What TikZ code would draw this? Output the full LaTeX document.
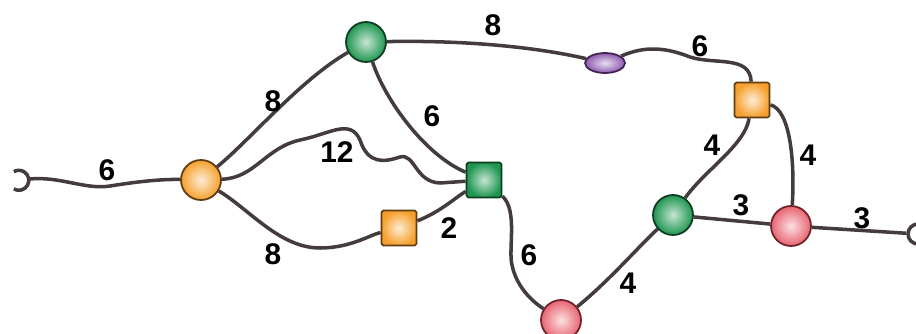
\documentclass[tikz,border=0pt]{standalone}
\usepackage{fontspec}
\setsansfont{Liberation Sans}
\usetikzlibrary{shapes.geometric}
\definecolor{edgegray}{RGB}{68,60,60}
\definecolor{orgfill}{RGB}{245,160,45}
\definecolor{orgline}{RGB}{95,60,20}
\definecolor{grnfill}{RGB}{30,150,80}
\definecolor{grnline}{RGB}{15,60,35}
\definecolor{redfill}{RGB}{232,100,112}
\definecolor{redline}{RGB}{110,35,42}
\definecolor{purfill}{RGB}{140,90,175}
\definecolor{purline}{RGB}{65,35,85}
\begin{document}
\begin{tikzpicture}[
  x=0.2mm, y=-0.2mm,
  ballnode/.style={circle, minimum size=8mm, inner sep=0pt, line width=1pt},
  boxnode/.style={rectangle, rounded corners=1pt, minimum size=7mm, inner sep=0pt, line width=1pt},
  orgcol/.style={draw=orgline, inner color=orgfill!20!white, outer color=orgfill},
  grncol/.style={draw=grnline, inner color=grnfill!25!white, outer color=grnfill},
  redcol/.style={draw=redline, inner color=redfill!20!white, outer color=redfill},
  purcol/.style={draw=purline, inner color=purfill!20!white, outer color=purfill},
  term/.style={circle, minimum size=4mm, inner sep=0pt},
  wlabel/.style={font=\sffamily\bfseries\fontsize{17}{17}\selectfont, inner sep=0pt},
  edge/.style={draw=edgegray, line width=2pt}
]
  \clip (0,0) rectangle (916,334);

  \node[term] (t1) at (19,180) {};
  \node[ballnode, orgcol] (a) at (201,180) {};
  \node[ballnode, grncol] (b) at (366,42) {};
  \node[boxnode, orgcol] (osq) at (399,228) {};
  \node[boxnode, grncol] (g) at (484,180) {};
  \node[ellipse, minimum width=8mm, minimum height=4mm, inner sep=0pt, line width=1pt, purcol] (pur) at (605,63) {};
  \node[boxnode, orgcol] (osqr) at (752,100) {};
  \node[ballnode, redcol] (rbot) at (561,320) {};
  \node[ballnode, grncol] (gr) at (673,215) {};
  \node[ballnode, redcol] (rr) at (791,226) {};
  \node[term, draw=edgegray, line width=2pt] (t2) at (918,234) {};

  \draw[edgegray, line width=2pt] (t1.-120) arc (-120:120:2mm);

  \draw[edge] (t1) .. controls (60,176) and (85,190) .. (110,186) .. controls (135,182) and (160,179) .. (a);
  \draw[edge] (a) .. controls (250,140) and (300,80) .. (b);
  \draw[edge] (a) .. controls (255,178) and (265,148) .. (300,140) .. controls (330,134) and (350,118) .. (360,140) .. controls (368,165) and (385,162) .. (400,157) .. controls (415,153) and (415,182) .. (440,183) -- (g);
  \draw[edge] (a) .. controls (250,210) and (280,248) .. (320,248) .. controls (350,248) and (370,235) .. (osq);
  \draw[edge] (osq) .. controls (440,212) and (455,198) .. (g);
  \draw[edge] (b) .. controls (385,100) and (425,155) .. (g);
  \draw[edge] (b) .. controls (470,40) and (540,48) .. (pur);
  \draw[edge] (pur) .. controls (640,48) and (660,45) .. (690,57) .. controls (715,65) and (750,55) .. (osqr);
  \draw[edge] (g) .. controls (518,210) and (508,250) .. (512,265) .. controls (516,285) and (530,300) .. (rbot);
  \draw[edge] (rbot) .. controls (610,280) and (640,245) .. (gr);
  \draw[edge] (gr) .. controls (705,170) and (745,145) .. (osqr);
  \draw[edge] (osqr) .. controls (790,110) and (795,160) .. (rr);
  \draw[edge] (gr) -- (rr);
  \draw[edge] (rr) -- (t2);

  \node[wlabel] (w1) at (107,170) {6};
  \node[wlabel] (w2) at (273,101) {8};
  \node[wlabel] (w3) at (337,152) {12};
  \node[wlabel] (w4) at (273,254) {8};
  \node[wlabel] (w5) at (449,228) {2};
  \node[wlabel] (w6) at (432,116) {6};
  \node[wlabel] (w7) at (493,25) {8};
  \node[wlabel] (w8) at (700,46) {6};
  \node[wlabel] (w9) at (529,255) {6};
  \node[wlabel] (w10) at (628,283) {4};
  \node[wlabel] (w11) at (712,145) {4};
  \node[wlabel] (w12) at (808,155) {4};
  \node[wlabel] (w13) at (741,205) {3};
  \node[wlabel] (w14) at (862,218) {3};
\end{tikzpicture}
\end{document}
